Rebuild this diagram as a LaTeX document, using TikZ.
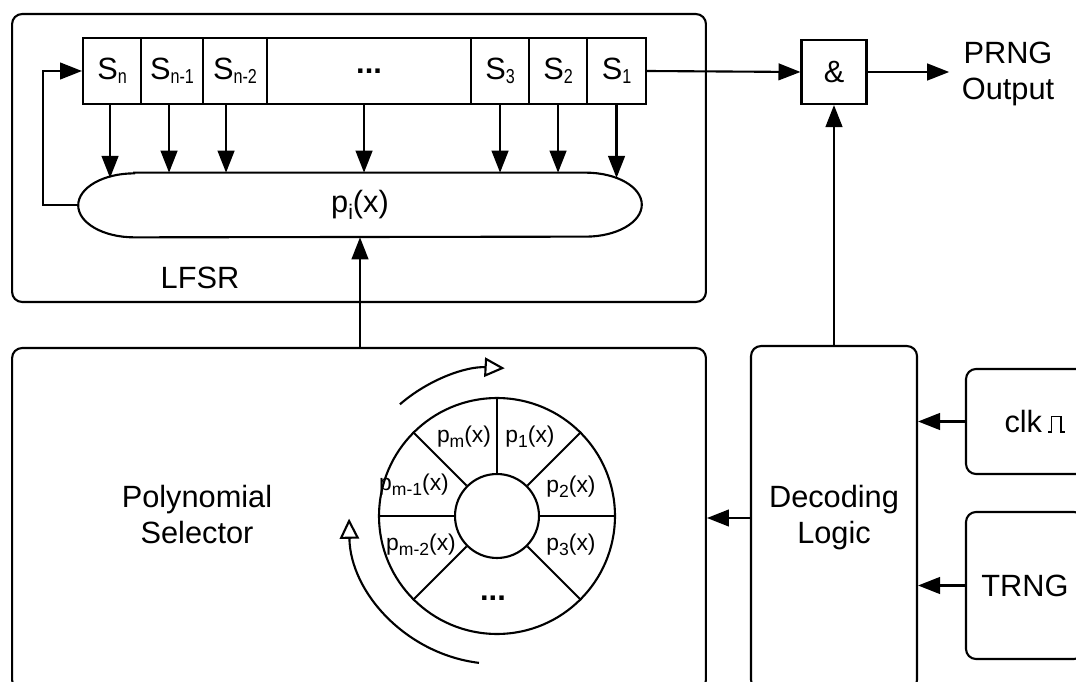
\documentclass[tikz,border=0pt]{standalone}
\usepackage{fontspec}
\setmainfont{Liberation Sans}
\usepackage{graphicx}
\usepackage{tikz}
\usetikzlibrary{calc,shapes,arrows.meta}
\newcommand\bigfont{\fontsize{17.5}{20.5}\selectfont}
\newcommand\smallfont{\fontsize{13}{15}\selectfont}
\newcommand\regidx[1]{\raisebox{-2pt}{\scalebox{0.8}[1]{\fontsize{11.5}{12}\selectfont #1}}}
\newcommand\polyidx[1]{\raisebox{-4pt}{\fontsize{12}{12}\selectfont #1}}
\newcommand\wheelidx[1]{\raisebox{-3pt}{\fontsize{10}{10}\selectfont #1}}
\newcommand\clkpulse{\tikz[baseline=0pt,sharp corners]\draw[line width=0.9pt] (0pt,0pt) -- (2pt,0pt) -- (2pt,9pt) -- (7.5pt,9pt) -- (7.5pt,0pt) -- (9.5pt,0pt);}
\tikzstyle{block}=[rectangle,draw=black,line width=1.2pt,rounded corners=0.2cm,inner sep=0pt]
\tikzstyle{cell}=[rectangle,draw=black,line width=1.2pt,minimum height=1.32cm,
                  inner sep=0pt,anchor=west,font=\bigfont]
\tikzstyle{disc}=[circle,draw=black,line width=1.2pt,inner sep=0pt]
\tikzstyle{arr}=[line width=1.2pt,-{Triangle[length=12.5pt,width=9.5pt]}]
\tikzstyle{turn}=[line width=1.2pt,-{Triangle[open,length=11.5pt,width=11pt]}]

\begin{document}
\begin{tikzpicture}[x=0.02cm,y=-0.02cm]
	\useasboundingbox (0,0) rectangle (1076,682);
	\node [block, minimum width=13.88cm, minimum height=5.76cm] (lfsr) at (359,158) {};
	\node [font=\bigfont] (lfsrlabel) at (200,278) {LFSR};

	\node [cell, minimum width=1.16cm] (sn) at (82,71) {S\regidx{n}};
	\node [cell, minimum width=1.24cm] (sn1) at (140,71) {S\regidx{n-1}};
	\node [cell, minimum width=1.28cm] (sn2) at (202,71) {S\regidx{n-2}};
	\node [cell, minimum width=4.08cm] (sdots) at (266,71) {\textbf{...}};
	\node [cell, minimum width=1.16cm] (s3) at (470,71) {S\regidx{3}};
	\node [cell, minimum width=1.16cm] (s2) at (528,71) {S\regidx{2}};
	\node [cell, minimum width=1.18cm] (s1) at (586,71) {S\regidx{1}};

	\node [minimum width=11.26cm, minimum height=1.28cm, inner sep=0pt, font=\bigfont] (poly) at (360,205) {p\polyidx{i}(x)};
	\draw [line width=1.2pt] ([xshift=1.12cm]poly.north west) -- ([xshift=-1.12cm]poly.north east)
		arc [start angle=90, end angle=-90, x radius=1.12cm, y radius=0.64cm]
		-- ([xshift=1.12cm]poly.south west)
		arc [start angle=270, end angle=90, x radius=1.12cm, y radius=0.64cm] -- cycle;

	\draw [arr, shorten >=-3pt] ([xshift=-0.04cm]sn.south) -- ([xshift=-0.04cm]sn.south |- poly.north);
	\draw [arr] ([xshift=-0.06cm]sn1.south) -- ([xshift=-0.06cm]sn1.south |- poly.north);
	\draw [arr] ([xshift=-0.18cm]sn2.south) -- ([xshift=-0.18cm]sn2.south |- poly.north);
	\draw [arr] ([xshift=-0.1cm]sdots.south) -- ([xshift=-0.1cm]sdots.south |- poly.north);
	\draw [arr] (s3.south) -- (s3.south |- poly.north);
	\draw [arr] (s2.south) -- (s2.south |- poly.north);
	\draw [arr, shorten >=-3pt] (s1.south) -- (s1.south |- poly.north);
	\draw [arr] (poly.west) -- ++(-35,0) |- (sn.west);

	\node [rectangle, draw=black, line width=1.2pt, minimum width=1.3cm, minimum height=1.28cm, font=\bigfont] (and) at (834,72) {\&};
	\node [font=\bigfont, align=center, inner sep=7pt] (out) at (1008,74) {PRNG\\Output};
	\draw [arr] (s1.east) -- (and.west);
	\draw [arr] (and.east) -- (out.west |- and.east);

	\node [block, minimum width=13.88cm, minimum height=6.84cm] (sel) at (359,519) {};
	\node [font=\bigfont, align=center] (sellabel) at (197,515) {Polynomial\\Selector};
	\draw [arr] (poly.south |- sel.north) -- (poly.south);

	\node [block, minimum width=3.32cm, minimum height=6.88cm, font=\bigfont, align=center] (dec) at (834,518) {Decoding\\Logic};
	\node [block, minimum width=2.76cm, minimum height=2.1cm, font=\bigfont] (clk) at (1035,421.5) {clk\,\clkpulse};
	\node [block, minimum width=2.36cm, minimum height=2.94cm, font=\bigfont] (trng) at (1025,585.5) {TRNG};
	\draw [arr] (dec.north) -- (and.south);
	\draw [arr] (dec.west) -- (dec.west -| sel.east);
	\draw [arr] (clk.west) -- (clk.west -| dec.east);
	\draw [arr] (trng.west) -- (trng.west -| dec.east);

	\node [disc, minimum size=4.72cm] (wheel) at (497,516) {};
	\node [disc, minimum size=1.68cm] (hub) at (497,516) {};
	\foreach \a in {0,45,90,135,180,225,315}
		\draw [line width=1.2pt] (hub.\a) -- (wheel.\a);
	\node [font=\smallfont] (pm) at (464,437) {p\wheelidx{m}(x)};
	\node [font=\smallfont] (p1) at (530,437) {p\wheelidx{1}(x)};
	\node [font=\smallfont] (p2) at (571,487) {p\wheelidx{2}(x)};
	\node [font=\smallfont] (p3) at (571,545) {p\wheelidx{3}(x)};
	\node [font=\smallfont] (pm1) at (414,485) {p\wheelidx{m-1}(x)};
	\node [font=\smallfont] (pm2) at (421,545) {p\wheelidx{m-2}(x)};
	\node [font=\bigfont] (pdots) at (493,598) {\textbf{...}};
	\draw [turn] ($(hub.center)+(131:2.96cm)$) arc [start angle=131, end angle=87, radius=2.96cm];
	\draw [turn] ($(hub.center)+(263:2.96cm)$) arc [start angle=263, end angle=181, radius=2.96cm];
\end{tikzpicture}
\end{document}
